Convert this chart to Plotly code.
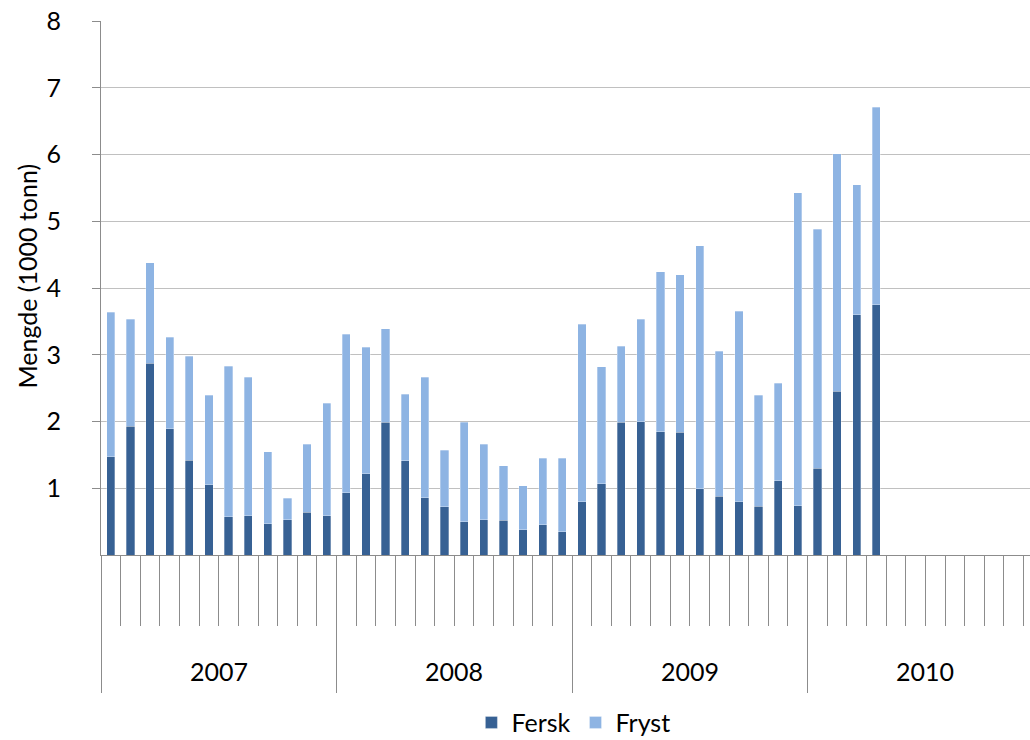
import plotly.graph_objects as go

years = ["2007", "2008", "2009", "2010"]
months_per_year = 12
n_months = 48

# Totals (Fersk + Fryst), Jan 2007 .. Apr 2010
totals = [3.64, 3.53, 4.38, 3.26, 2.98, 2.39, 2.83, 2.66, 1.55, 0.85, 1.66, 2.27,
          3.31, 3.11, 3.39, 2.41, 2.66, 1.57, 1.99, 1.66, 1.34, 1.04, 1.45, 1.45,
          3.46, 2.82, 3.13, 3.53, 4.24, 4.20, 4.63, 3.05, 3.65, 2.39, 2.57, 5.43,
          4.88, 6.01, 5.55, 6.71]
fersk = [1.47, 1.93, 2.87, 1.89, 1.42, 1.05, 0.57, 0.59, 0.47, 0.53, 0.64, 0.59,
         0.93, 1.22, 1.99, 1.41, 0.86, 0.72, 0.50, 0.53, 0.52, 0.38, 0.45, 0.35,
         0.80, 1.07, 1.99, 2.00, 1.85, 1.84, 0.99, 0.88, 0.80, 0.73, 1.11, 0.74,
         1.30, 2.45, 3.60, 3.75]
fryst = [round(t - f, 2) for t, f in zip(totals, fersk)]

x_idx = list(range(len(fersk)))

FONT = "Lato, 'Open Sans', sans-serif"
DARK = "#376194"
LIGHT = "#8EB4E3"
AXIS = "#8C8C8C"
XRANGE = [-0.5, 46.83]

fig = go.Figure()
fig.add_trace(go.Bar(x=x_idx, y=fersk, name="Fersk", marker_color=DARK,
                     marker_line=dict(color="rgba(255,255,255,0.5)", width=0.6),
                     width=0.42))
fig.add_trace(go.Bar(x=x_idx, y=fryst, name="Fryst", marker_color=LIGHT,
                     marker_line=dict(color="rgba(255,255,255,0.5)", width=0.6),
                     width=0.42))

year_bounds = [i * months_per_year - 0.5 for i in range(len(years) + 1)]
month_bounds = [i - 0.5 for i in range(n_months + 1)]
year_centers = [i * months_per_year + (months_per_year - 1) / 2 for i in range(len(years))]

# invisible helper trace so the overlay axis (year dividers) is drawn
fig.add_trace(go.Scatter(x=year_centers, y=[None] * len(years), xaxis="x2",
                         mode="markers", showlegend=False, hoverinfo="skip"))

fig.update_layout(
    width=1030, height=740,
    barmode="stack",
    paper_bgcolor="white", plot_bgcolor="white",
    margin=dict(l=101, r=0, t=21, b=184.5, autoexpand=False),
    font=dict(family=FONT, size=25, color="black"),
    xaxis=dict(
        range=XRANGE, automargin=False,
        showline=True, linecolor=AXIS, linewidth=1,
        tickmode="array", tickvals=month_bounds, ticktext=[""] * len(month_bounds),
        showticklabels=False,
        ticks="outside", ticklen=70, tickcolor=AXIS, tickwidth=1,
        showgrid=False, zeroline=False,
    ),
    xaxis2=dict(
        range=XRANGE, automargin=False, overlaying="x", anchor="y", side="bottom",
        showline=False,
        tickmode="array", tickvals=year_bounds, ticktext=[""] * len(year_bounds),
        showticklabels=False,
        ticks="outside", ticklen=137, tickcolor=AXIS, tickwidth=1,
        showgrid=False, zeroline=False,
    ),
    yaxis=dict(
        range=[0, 8], automargin=False,
        tickmode="array", tickvals=[1, 2, 3, 4, 5, 6, 7, 8],
        showline=True, linecolor=AXIS, linewidth=1,
        ticks="outside", ticklen=8, tickcolor=AXIS,
        ticklabelstandoff=26, ticklabeloverflow="allow",
        tickfont=dict(size=25),
        showgrid=True, gridcolor="#C0C0C0", gridwidth=1,
        zeroline=False,
    ),
    legend=dict(orientation="h", x=0.5085, xanchor="center", y=-0.314,
                yanchor="middle", font=dict(size=25), traceorder="normal",
                itemwidth=30),
    showlegend=True,
)

# y-axis title
fig.add_annotation(text="Mengde (1000 tonn)", textangle=-90, xref="paper", yref="paper",
                   x=-0.0807, y=0.5215, xanchor="center", yanchor="middle",
                   showarrow=False, font=dict(size=25))

for i, yr in enumerate(years):
    fig.add_annotation(x=year_centers[i], y=-0.218, xref="x", yref="paper", text=yr,
                       showarrow=False, font=dict(size=25), yanchor="middle")

fig.write_html("out.html", config={"displayModeBar": False},
               post_script="document.body.style.margin='0';")
